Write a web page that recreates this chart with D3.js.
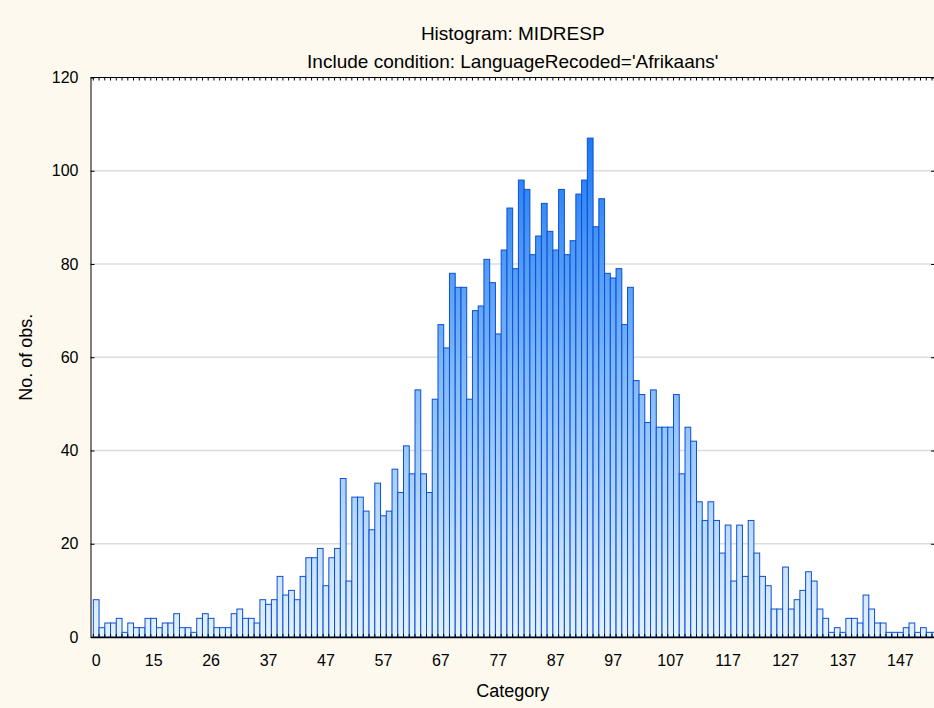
<!DOCTYPE html>
<html>
<head>
<meta charset="utf-8">
<script src="https://cdn.jsdelivr.net/npm/d3@7"></script>
<style>
  body { margin: 0; background: #fdf9ef; }
  svg { display: block; font-family: "Liberation Sans", Arial, sans-serif; }
</style>
</head>
<body>
<svg width="934" height="708"></svg>
<script>
// bar counts, one per category (left to right)
const counts = [
  8, 2, 3, 3, 4, 1, 3, 2, 2, 4,
  4, 2, 3, 3, 5, 2, 2, 1, 4, 5,
  4, 2, 2, 2, 5, 6, 4, 4, 3, 8,
  7, 8, 13, 9, 10, 8, 13, 17, 17, 19,
  11, 17, 19, 34, 12, 30, 30, 27, 23, 33,
  26, 27, 36, 31, 41, 35, 53, 35, 31, 51,
  67, 62, 78, 75, 75, 51, 70, 71, 81, 76,
  65, 83, 92, 79, 98, 96, 82, 86, 93, 87,
  83, 96, 82, 85, 95, 98, 107, 88, 94, 78,
  77, 79, 67, 75, 55, 52, 46, 53, 45, 45,
  45, 52, 35, 45, 42, 29, 25, 29, 25, 18,
  24, 12, 24, 13, 25, 18, 13, 11, 6, 6,
  15, 6, 8, 10, 14, 12, 6, 4, 1, 2,
  1, 4, 4, 3, 9, 6, 3, 3, 1, 1,
  1, 2, 3, 1, 2, 1, 1
];
// labels shown under every 10th bar
const tickLabels = ['0', '15', '26', '37', '47', '57', '67', '77', '87', '97', '107', '117', '127', '137', '147'];
const tickEvery = 10;
const yTicks = [0, 20, 40, 60, 80, 100, 120];
const yMax = 120;

const plotL = 90.5, plotR = 935, plotT = 77.5, plotB = 637;

const svg = d3.select('svg');

const x = d3.scaleBand()
  .domain(d3.range(counts.length))
  .range([plotL, plotL + (plotR - plotL) * 1.0066])
  .paddingInner(0)
  .paddingOuter(0.49);

const y = d3.scaleLinear().domain([0, yMax]).range([plotB, plotT]);

// plot background
svg.append('rect')
  .attr('x', plotL).attr('y', plotT)
  .attr('width', plotR - plotL).attr('height', plotB - plotT)
  .attr('fill', '#ffffff');

// gradient follows the plot height, so tall bars get darker tops
const grad = svg.append('defs').append('linearGradient')
  .attr('id', 'barGrad')
  .attr('gradientUnits', 'userSpaceOnUse')
  .attr('x1', 0).attr('x2', 0)
  .attr('y1', y(0)).attr('y2', y(110));
grad.append('stop').attr('offset', 0).attr('stop-color', '#e4f2ff');
grad.append('stop').attr('offset', 0.5).attr('stop-color', '#82bbfa');
grad.append('stop').attr('offset', 1).attr('stop-color', '#1676f4');

// gridlines
svg.append('g')
  .selectAll('line')
  .data(yTicks.filter(d => d > 0 && d < yMax))
  .enter()
  .append('line')
  .attr('x1', plotL).attr('x2', plotR)
  .attr('y1', d => y(d)).attr('y2', d => y(d))
  .attr('stroke', '#dcdcdc')
  .attr('stroke-width', 1.5);

svg.append('clipPath').attr('id', 'plotClip')
  .append('rect')
  .attr('x', plotL).attr('y', plotT)
  .attr('width', plotR - plotL).attr('height', plotB - plotT);

svg.append('g')
  .attr('clip-path', 'url(#plotClip)')
  .selectAll('.bar')
  .data(counts)
  .enter()
  .append('rect')
  .attr('class', 'bar')
  .attr('x', (d, i) => x(i))
  .attr('y', d => y(d))
  .attr('width', x.bandwidth())
  .attr('height', d => y(0) - y(d))
  .attr('fill', 'url(#barGrad)')
  .attr('stroke', '#0c4fd3')
  .attr('stroke-width', 1);

// small ticks at each bar edge, bottom and top
const edges = d3.range(counts.length + 1).map(i => x(0) + i * x.step());
svg.append('g')
  .selectAll('line')
  .data(edges.filter(e => e < plotR))
  .enter()
  .append('line')
  .attr('x1', d => d).attr('x2', d => d)
  .attr('y1', plotB).attr('y2', plotB - 3)
  .attr('stroke', '#000');
svg.append('g')
  .selectAll('line')
  .data(edges.filter(e => e < plotR))
  .enter()
  .append('line')
  .attr('x1', d => d).attr('x2', d => d)
  .attr('y1', plotT).attr('y2', plotT + 3)
  .attr('stroke', '#000');

// y axis left
const yAxis = svg.append('g')
  .attr('transform', `translate(${plotL},0)`)
  .call(d3.axisLeft(y).tickValues(yTicks).tickSize(-4).tickSizeOuter(0).tickPadding(12));
yAxis.selectAll('text').attr('font-size', 16).attr('fill', '#000').attr('font-family', null);

// right side ticks
svg.append('g')
  .attr('transform', `translate(${plotR},0)`)
  .call(d3.axisRight(y).tickValues(yTicks).tickSize(-4).tickSizeOuter(0).tickFormat(''));

// top border
svg.append('line')
  .attr('x1', plotL).attr('x2', plotR)
  .attr('y1', plotT).attr('y2', plotT)
  .attr('stroke', '#000');

// x axis
const xAxis = svg.append('g')
  .attr('transform', `translate(0,${plotB})`)
  .call(d3.axisBottom(x)
    .tickValues(d3.range(0, counts.length, tickEvery))
    .tickFormat((d, i) => tickLabels[i])
    .tickSize(0)
    .tickSizeOuter(0)
    .tickPadding(18));
xAxis.select('.domain').attr('stroke-width', 1.5);
xAxis.selectAll('text').attr('font-size', 16).attr('fill', '#000').attr('font-family', null);

// titles
const midX = (plotL + plotR) / 2;
svg.append('text')
  .attr('x', midX).attr('y', 40)
  .attr('text-anchor', 'middle')
  .attr('font-size', 19)
  .text('Histogram: MIDRESP');
svg.append('text')
  .attr('x', midX).attr('y', 68)
  .attr('text-anchor', 'middle')
  .attr('font-size', 19)
  .text("Include condition: LanguageRecoded='Afrikaans'");

svg.append('text')
  .attr('x', midX).attr('y', 697)
  .attr('text-anchor', 'middle')
  .attr('font-size', 18)
  .text('Category');

svg.append('text')
  .attr('transform', `translate(32,${(plotT + plotB) / 2}) rotate(-90)`)
  .attr('text-anchor', 'middle')
  .attr('font-size', 18)
  .text('No. of obs.');
</script>
</body>
</html>
